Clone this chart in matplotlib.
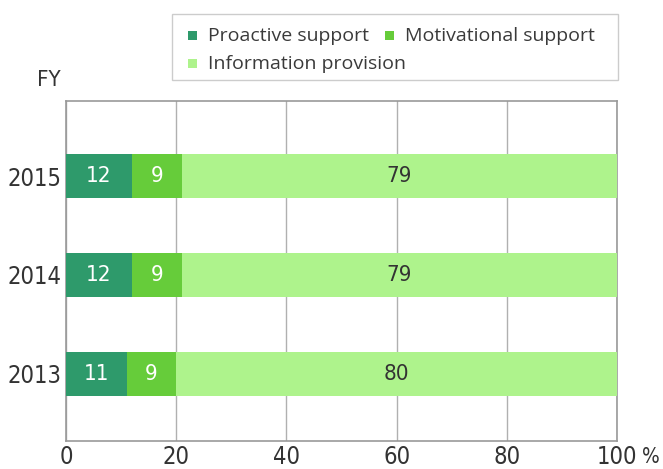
import matplotlib
matplotlib.use("Agg")
import matplotlib.pyplot as plt
from matplotlib.patches import Rectangle

years = ["2013", "2014", "2015"]
proactive = [11, 12, 12]
motivational = [9, 9, 9]
information = [80, 79, 79]
series_names = ["Proactive support", "Motivational support", "Information provision"]
colors = ["#2e9a6b", "#66cc3a", "#aef38c"]
xticks = [0, 20, 40, 60, 80, 100]

plt.rcParams['font.family'] = ['DejaVu Sans']
num_kw = dict(family="DejaVu Sans", stretch="condensed")

W, H = 663, 469
fig = plt.figure(figsize=(W / 100, H / 100), dpi=100)
ax = fig.add_axes([0.0995, 0.0597, 0.8311, 0.7249])

ypos = list(range(len(years)))
h = 0.44
series = [proactive, motivational, information]
left = [0] * len(years)
bars = []
for vals, col, name in zip(series, colors, series_names):
    b = ax.barh(ypos, vals, height=h, left=left, color=col, label=name, zorder=3)
    bars.append(b)
    for y, l, v in zip(ypos, left, vals):
        tc = "white" if col != colors[2] else "#333333"
        ax.text(l + v / 2, y, str(v), ha="center", va="center", color=tc,
                fontsize=16, zorder=4, **num_kw)
    left = [a + b_ for a, b_ in zip(left, vals)]

ax.set_xlim(0, 100)
ax.set_ylim(-0.68, 2.76)
ax.set_yticks(ypos)
ax.set_yticklabels(years, fontsize=17, color="#333333", **num_kw)
ax.set_xticks(xticks)
ax.set_xticklabels([str(t) for t in xticks], fontsize=17, color="#333333", **num_kw)
ax.tick_params(length=0, pad=3)
ax.xaxis.grid(True, color="#b0b0b0", linewidth=1, zorder=0)
for s in ax.spines.values():
    s.set_color("#999999")
    s.set_linewidth(1.2)

fig.text(37 / W, 1 - 80 / H, "FY", fontsize=16, color="#333333",
         ha="left", va="center", **num_kw)
fig.text(642 / W, 1 - 457 / H, "%", fontsize=15, color="#333333",
         ha="left", va="center", **num_kw)

# Legend (flowed rows, as in the reference)
def px(x, y):
    return x / W, 1 - y / H

x0, y0 = px(172, 80)
x1, y1 = px(618, 14)
fig.patches.append(Rectangle((x0, y0), x1 - x0, y1 - y0, transform=fig.transFigure,
                             facecolor="white", edgecolor="#cccccc", linewidth=1.0))
entry_pos = [(188, 36), (385, 36), (188, 64)]
for (ex, ey), name, col in zip(entry_pos, series_names, colors):
    mx, my = px(ex, ey + 4.5)
    fig.patches.append(Rectangle((mx, my), 9 / W, 9 / H, transform=fig.transFigure,
                                 facecolor=col, edgecolor="none"))
    tx, ty = px(ex + 20, ey)
    fig.text(tx, ty, name, fontsize=14, family="Open Sans", weight="medium",
             color="#3a3a3a", ha="left", va="center")

fig.savefig("out.png", dpi=100)
